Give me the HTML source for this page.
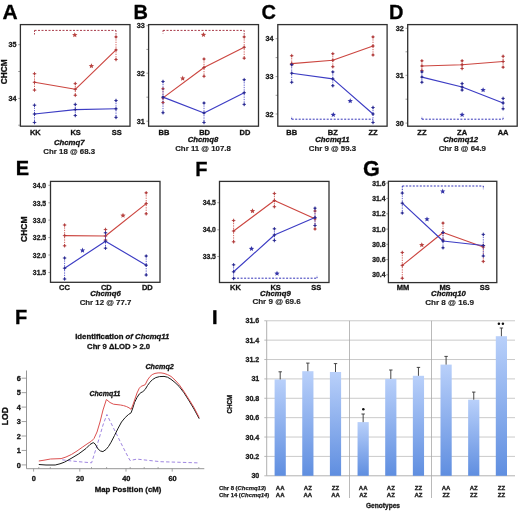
<!DOCTYPE html>
<html><head><meta charset="utf-8"><title>CHCM QTL figure</title>
<style>
html,body{margin:0;padding:0;background:#fff;width:520px;height:511px;overflow:hidden;}
svg{display:block;font-family:"Liberation Sans", sans-serif;will-change:transform;}
</style></head><body>
<svg width="520" height="511" viewBox="0 0 520 511">
<rect width="520" height="511" fill="#fff"/>
<text x="2.40" y="18.80" font-size="21" font-weight="bold" font-style="normal" text-anchor="start" fill="#000" stroke="#000" stroke-width="0.3" >A</text>
<text x="133.60" y="18.80" font-size="20" font-weight="bold" font-style="normal" text-anchor="start" fill="#000" stroke="#000" stroke-width="0.3" >B</text>
<text x="261.60" y="18.90" font-size="20" font-weight="bold" font-style="normal" text-anchor="start" fill="#000" stroke="#000" stroke-width="0.3" >C</text>
<text x="389.00" y="18.80" font-size="20" font-weight="bold" font-style="normal" text-anchor="start" fill="#000" stroke="#000" stroke-width="0.3" >D</text>
<text x="15.80" y="175.40" font-size="20" font-weight="bold" font-style="normal" text-anchor="start" fill="#000" stroke="#000" stroke-width="0.3" >E</text>
<text x="195.20" y="175.60" font-size="20" font-weight="bold" font-style="normal" text-anchor="start" fill="#000" stroke="#000" stroke-width="0.3" >F</text>
<text x="363.00" y="175.80" font-size="21.6" font-weight="bold" font-style="normal" text-anchor="start" fill="#000" stroke="#000" stroke-width="0.3" >G</text>
<text x="15.00" y="324.40" font-size="20" font-weight="bold" font-style="normal" text-anchor="start" fill="#000" stroke="#000" stroke-width="0.3" >F</text>
<rect x="213.2" y="310.2" width="3.3" height="14" fill="#000"/>
<line x1="18.20" y1="44.70" x2="20.40" y2="44.70" stroke="#777" stroke-width="0.7" />
<text x="16.50" y="47.20" font-size="7.2" font-weight="bold" font-style="normal" text-anchor="end" fill="#1a1a1a" stroke="#1a1a1a" stroke-width="0.3" >35</text>
<line x1="18.20" y1="71.50" x2="20.40" y2="71.50" stroke="#777" stroke-width="0.7" />
<line x1="18.20" y1="98.40" x2="20.40" y2="98.40" stroke="#777" stroke-width="0.7" />
<text x="16.50" y="100.90" font-size="7.2" font-weight="bold" font-style="normal" text-anchor="end" fill="#1a1a1a" stroke="#1a1a1a" stroke-width="0.3" >34</text>
<line x1="18.20" y1="125.20" x2="20.40" y2="125.20" stroke="#777" stroke-width="0.7" />
<line x1="34.50" y1="30.40" x2="116.00" y2="30.40" stroke="#a83a48" stroke-width="1" stroke-dasharray="2,1.5" />
<line x1="34.50" y1="30.40" x2="34.50" y2="34.50" stroke="#a83a48" stroke-width="1" stroke-dasharray="1.5,1.2" />
<line x1="116.00" y1="30.40" x2="116.00" y2="37.00" stroke="#a83a48" stroke-width="1" stroke-dasharray="1.5,1.2" />
<line x1="34.50" y1="73.70" x2="34.50" y2="90.10" stroke="#cc4640" stroke-width="0.9" stroke-dasharray="1.3,1.1" opacity="0.9"/>
<line x1="75.30" y1="83.60" x2="75.30" y2="95.30" stroke="#cc4640" stroke-width="0.9" stroke-dasharray="1.3,1.1" opacity="0.9"/>
<line x1="116.00" y1="36.90" x2="116.00" y2="59.50" stroke="#cc4640" stroke-width="0.9" stroke-dasharray="1.3,1.1" opacity="0.9"/>
<polyline points="34.50,82.30 75.30,89.30 116.00,49.90" fill="none" stroke="#cc4640" stroke-width="1.15" stroke-linejoin="round"/>
<path d="M32.70,73.70h3.6M34.50,71.90v3.6" stroke="#b03a3a" stroke-width="0.9" opacity="0.85"/>
<circle cx="34.50" cy="73.70" r="1.0" fill="#b03a3a"/>
<path d="M32.70,82.30h3.6M34.50,80.50v3.6" stroke="#b03a3a" stroke-width="0.9" opacity="0.85"/>
<circle cx="34.50" cy="82.30" r="1.0" fill="#b03a3a"/>
<path d="M32.70,90.10h3.6M34.50,88.30v3.6" stroke="#b03a3a" stroke-width="0.9" opacity="0.85"/>
<circle cx="34.50" cy="90.10" r="1.0" fill="#b03a3a"/>
<path d="M73.50,83.60h3.6M75.30,81.80v3.6" stroke="#b03a3a" stroke-width="0.9" opacity="0.85"/>
<circle cx="75.30" cy="83.60" r="1.0" fill="#b03a3a"/>
<path d="M73.50,89.30h3.6M75.30,87.50v3.6" stroke="#b03a3a" stroke-width="0.9" opacity="0.85"/>
<circle cx="75.30" cy="89.30" r="1.0" fill="#b03a3a"/>
<path d="M73.50,95.30h3.6M75.30,93.50v3.6" stroke="#b03a3a" stroke-width="0.9" opacity="0.85"/>
<circle cx="75.30" cy="95.30" r="1.0" fill="#b03a3a"/>
<path d="M114.20,36.90h3.6M116.00,35.10v3.6" stroke="#b03a3a" stroke-width="0.9" opacity="0.85"/>
<circle cx="116.00" cy="36.90" r="1.0" fill="#b03a3a"/>
<path d="M114.20,49.90h3.6M116.00,48.10v3.6" stroke="#b03a3a" stroke-width="0.9" opacity="0.85"/>
<circle cx="116.00" cy="49.90" r="1.0" fill="#b03a3a"/>
<path d="M114.20,59.50h3.6M116.00,57.70v3.6" stroke="#b03a3a" stroke-width="0.9" opacity="0.85"/>
<circle cx="116.00" cy="59.50" r="1.0" fill="#b03a3a"/>
<line x1="34.50" y1="105.20" x2="34.50" y2="122.50" stroke="#3c3cc4" stroke-width="0.9" stroke-dasharray="1.3,1.1" opacity="0.9"/>
<line x1="75.30" y1="104.40" x2="75.30" y2="115.50" stroke="#3c3cc4" stroke-width="0.9" stroke-dasharray="1.3,1.1" opacity="0.9"/>
<line x1="116.00" y1="100.50" x2="116.00" y2="117.40" stroke="#3c3cc4" stroke-width="0.9" stroke-dasharray="1.3,1.1" opacity="0.9"/>
<polyline points="34.50,114.00 75.30,109.60 116.00,108.80" fill="none" stroke="#3c3cc4" stroke-width="1.15" stroke-linejoin="round"/>
<path d="M32.70,105.20h3.6M34.50,103.40v3.6" stroke="#282890" stroke-width="0.9" opacity="0.85"/>
<circle cx="34.50" cy="105.20" r="1.0" fill="#282890"/>
<path d="M32.70,114.00h3.6M34.50,112.20v3.6" stroke="#282890" stroke-width="0.9" opacity="0.85"/>
<circle cx="34.50" cy="114.00" r="1.0" fill="#282890"/>
<path d="M32.70,122.50h3.6M34.50,120.70v3.6" stroke="#282890" stroke-width="0.9" opacity="0.85"/>
<circle cx="34.50" cy="122.50" r="1.0" fill="#282890"/>
<path d="M73.50,104.40h3.6M75.30,102.60v3.6" stroke="#282890" stroke-width="0.9" opacity="0.85"/>
<circle cx="75.30" cy="104.40" r="1.0" fill="#282890"/>
<path d="M73.50,109.60h3.6M75.30,107.80v3.6" stroke="#282890" stroke-width="0.9" opacity="0.85"/>
<circle cx="75.30" cy="109.60" r="1.0" fill="#282890"/>
<path d="M73.50,115.50h3.6M75.30,113.70v3.6" stroke="#282890" stroke-width="0.9" opacity="0.85"/>
<circle cx="75.30" cy="115.50" r="1.0" fill="#282890"/>
<path d="M114.20,100.50h3.6M116.00,98.70v3.6" stroke="#282890" stroke-width="0.9" opacity="0.85"/>
<circle cx="116.00" cy="100.50" r="1.0" fill="#282890"/>
<path d="M114.20,108.80h3.6M116.00,107.00v3.6" stroke="#282890" stroke-width="0.9" opacity="0.85"/>
<circle cx="116.00" cy="108.80" r="1.0" fill="#282890"/>
<path d="M114.20,117.40h3.6M116.00,115.60v3.6" stroke="#282890" stroke-width="0.9" opacity="0.85"/>
<circle cx="116.00" cy="117.40" r="1.0" fill="#282890"/>
<polygon points="74.80,32.20 75.54,33.98 77.46,34.13 76.00,35.39 76.45,37.27 74.80,36.26 73.15,37.27 73.60,35.39 72.14,34.13 74.06,33.98" fill="#b84440"/>
<polygon points="91.40,63.20 92.14,64.98 94.06,65.13 92.60,66.39 93.05,68.27 91.40,67.26 89.75,68.27 90.20,66.39 88.74,65.13 90.66,64.98" fill="#b84440"/>
<rect x="20.40" y="24.60" width="109.60" height="101.60" fill="none" stroke="#303030" stroke-width="1.3"/>
<text x="35.30" y="135.00" font-size="7.5" font-weight="bold" font-style="normal" text-anchor="middle" fill="#111" stroke="#111" stroke-width="0.3" >KK</text>
<text x="75.60" y="135.00" font-size="7.5" font-weight="bold" font-style="normal" text-anchor="middle" fill="#111" stroke="#111" stroke-width="0.3" >KS</text>
<text x="116.70" y="135.00" font-size="7.5" font-weight="bold" font-style="normal" text-anchor="middle" fill="#111" stroke="#111" stroke-width="0.3" >SS</text>
<text x="69.20" y="145.30" font-size="7.75" font-weight="bold" font-style="italic" text-anchor="middle" fill="#111" stroke="#111" stroke-width="0.3" >Chcmq7</text>
<text x="69.20" y="154.40" font-size="7.85" font-weight="bold" font-style="normal" text-anchor="middle" fill="#1a1a1a" stroke="#1a1a1a" stroke-width="0.15" >Chr 18 @ 68.3</text>
<line x1="146.40" y1="25.70" x2="148.60" y2="25.70" stroke="#777" stroke-width="0.7" />
<text x="144.70" y="28.20" font-size="7.2" font-weight="bold" font-style="normal" text-anchor="end" fill="#1a1a1a" stroke="#1a1a1a" stroke-width="0.3" >33</text>
<line x1="146.40" y1="49.40" x2="148.60" y2="49.40" stroke="#777" stroke-width="0.7" />
<line x1="146.40" y1="73.20" x2="148.60" y2="73.20" stroke="#777" stroke-width="0.7" />
<text x="144.70" y="75.70" font-size="7.2" font-weight="bold" font-style="normal" text-anchor="end" fill="#1a1a1a" stroke="#1a1a1a" stroke-width="0.3" >32</text>
<line x1="146.40" y1="97.20" x2="148.60" y2="97.20" stroke="#777" stroke-width="0.7" />
<line x1="146.40" y1="121.20" x2="148.60" y2="121.20" stroke="#777" stroke-width="0.7" />
<text x="144.70" y="123.70" font-size="7.2" font-weight="bold" font-style="normal" text-anchor="end" fill="#1a1a1a" stroke="#1a1a1a" stroke-width="0.3" >31</text>
<line x1="163.00" y1="30.40" x2="244.20" y2="30.40" stroke="#a83a48" stroke-width="1" stroke-dasharray="2,1.5" />
<line x1="163.00" y1="30.40" x2="163.00" y2="33.50" stroke="#a83a48" stroke-width="1" stroke-dasharray="1.5,1.2" />
<line x1="244.20" y1="30.40" x2="244.20" y2="37.00" stroke="#a83a48" stroke-width="1" stroke-dasharray="1.5,1.2" />
<line x1="163.00" y1="88.80" x2="163.00" y2="102.60" stroke="#cc4640" stroke-width="0.9" stroke-dasharray="1.3,1.1" opacity="0.9"/>
<line x1="204.00" y1="59.00" x2="204.00" y2="76.30" stroke="#cc4640" stroke-width="0.9" stroke-dasharray="1.3,1.1" opacity="0.9"/>
<line x1="244.20" y1="36.90" x2="244.20" y2="58.20" stroke="#cc4640" stroke-width="0.9" stroke-dasharray="1.3,1.1" opacity="0.9"/>
<polyline points="163.00,97.90 204.00,67.50 244.20,47.30" fill="none" stroke="#cc4640" stroke-width="1.15" stroke-linejoin="round"/>
<path d="M161.20,88.80h3.6M163.00,87.00v3.6" stroke="#b03a3a" stroke-width="0.9" opacity="0.85"/>
<circle cx="163.00" cy="88.80" r="1.0" fill="#b03a3a"/>
<path d="M161.20,97.90h3.6M163.00,96.10v3.6" stroke="#b03a3a" stroke-width="0.9" opacity="0.85"/>
<circle cx="163.00" cy="97.90" r="1.0" fill="#b03a3a"/>
<path d="M161.20,102.60h3.6M163.00,100.80v3.6" stroke="#b03a3a" stroke-width="0.9" opacity="0.85"/>
<circle cx="163.00" cy="102.60" r="1.0" fill="#b03a3a"/>
<path d="M202.20,59.00h3.6M204.00,57.20v3.6" stroke="#b03a3a" stroke-width="0.9" opacity="0.85"/>
<circle cx="204.00" cy="59.00" r="1.0" fill="#b03a3a"/>
<path d="M202.20,67.50h3.6M204.00,65.70v3.6" stroke="#b03a3a" stroke-width="0.9" opacity="0.85"/>
<circle cx="204.00" cy="67.50" r="1.0" fill="#b03a3a"/>
<path d="M202.20,76.30h3.6M204.00,74.50v3.6" stroke="#b03a3a" stroke-width="0.9" opacity="0.85"/>
<circle cx="204.00" cy="76.30" r="1.0" fill="#b03a3a"/>
<path d="M242.40,36.90h3.6M244.20,35.10v3.6" stroke="#b03a3a" stroke-width="0.9" opacity="0.85"/>
<circle cx="244.20" cy="36.90" r="1.0" fill="#b03a3a"/>
<path d="M242.40,47.30h3.6M244.20,45.50v3.6" stroke="#b03a3a" stroke-width="0.9" opacity="0.85"/>
<circle cx="244.20" cy="47.30" r="1.0" fill="#b03a3a"/>
<path d="M242.40,58.20h3.6M244.20,56.40v3.6" stroke="#b03a3a" stroke-width="0.9" opacity="0.85"/>
<circle cx="244.20" cy="58.20" r="1.0" fill="#b03a3a"/>
<line x1="163.00" y1="81.50" x2="163.00" y2="112.70" stroke="#3c3cc4" stroke-width="0.9" stroke-dasharray="1.3,1.1" opacity="0.9"/>
<line x1="204.00" y1="103.00" x2="204.00" y2="122.50" stroke="#3c3cc4" stroke-width="0.9" stroke-dasharray="1.3,1.1" opacity="0.9"/>
<line x1="244.20" y1="79.70" x2="244.20" y2="104.40" stroke="#3c3cc4" stroke-width="0.9" stroke-dasharray="1.3,1.1" opacity="0.9"/>
<polyline points="163.00,97.10 204.00,113.00 244.20,92.70" fill="none" stroke="#3c3cc4" stroke-width="1.15" stroke-linejoin="round"/>
<path d="M161.20,81.50h3.6M163.00,79.70v3.6" stroke="#282890" stroke-width="0.9" opacity="0.85"/>
<circle cx="163.00" cy="81.50" r="1.0" fill="#282890"/>
<path d="M161.20,97.10h3.6M163.00,95.30v3.6" stroke="#282890" stroke-width="0.9" opacity="0.85"/>
<circle cx="163.00" cy="97.10" r="1.0" fill="#282890"/>
<path d="M161.20,112.70h3.6M163.00,110.90v3.6" stroke="#282890" stroke-width="0.9" opacity="0.85"/>
<circle cx="163.00" cy="112.70" r="1.0" fill="#282890"/>
<path d="M202.20,103.00h3.6M204.00,101.20v3.6" stroke="#282890" stroke-width="0.9" opacity="0.85"/>
<circle cx="204.00" cy="103.00" r="1.0" fill="#282890"/>
<path d="M202.20,113.00h3.6M204.00,111.20v3.6" stroke="#282890" stroke-width="0.9" opacity="0.85"/>
<circle cx="204.00" cy="113.00" r="1.0" fill="#282890"/>
<path d="M202.20,122.50h3.6M204.00,120.70v3.6" stroke="#282890" stroke-width="0.9" opacity="0.85"/>
<circle cx="204.00" cy="122.50" r="1.0" fill="#282890"/>
<path d="M242.40,79.70h3.6M244.20,77.90v3.6" stroke="#282890" stroke-width="0.9" opacity="0.85"/>
<circle cx="244.20" cy="79.70" r="1.0" fill="#282890"/>
<path d="M242.40,92.70h3.6M244.20,90.90v3.6" stroke="#282890" stroke-width="0.9" opacity="0.85"/>
<circle cx="244.20" cy="92.70" r="1.0" fill="#282890"/>
<path d="M242.40,104.40h3.6M244.20,102.60v3.6" stroke="#282890" stroke-width="0.9" opacity="0.85"/>
<circle cx="244.20" cy="104.40" r="1.0" fill="#282890"/>
<polygon points="203.50,32.00 204.24,33.78 206.16,33.93 204.70,35.19 205.15,37.07 203.50,36.06 201.85,37.07 202.30,35.19 200.84,33.93 202.76,33.78" fill="#b84440"/>
<polygon points="182.70,75.60 183.44,77.38 185.36,77.53 183.90,78.79 184.35,80.67 182.70,79.66 181.05,80.67 181.50,78.79 180.04,77.53 181.96,77.38" fill="#b84440"/>
<rect x="148.60" y="24.60" width="109.90" height="101.60" fill="none" stroke="#303030" stroke-width="1.3"/>
<text x="164.00" y="135.00" font-size="7.5" font-weight="bold" font-style="normal" text-anchor="middle" fill="#111" stroke="#111" stroke-width="0.3" >BB</text>
<text x="204.60" y="135.00" font-size="7.5" font-weight="bold" font-style="normal" text-anchor="middle" fill="#111" stroke="#111" stroke-width="0.3" >BD</text>
<text x="245.00" y="135.00" font-size="7.5" font-weight="bold" font-style="normal" text-anchor="middle" fill="#111" stroke="#111" stroke-width="0.3" >DD</text>
<text x="203.00" y="141.90" font-size="7.75" font-weight="bold" font-style="italic" text-anchor="middle" fill="#111" stroke="#111" stroke-width="0.3" >Chcmq8</text>
<text x="203.00" y="150.70" font-size="7.85" font-weight="bold" font-style="normal" text-anchor="middle" fill="#1a1a1a" stroke="#1a1a1a" stroke-width="0.15" >Chr 11 @ 107.8</text>
<line x1="275.60" y1="38.70" x2="277.80" y2="38.70" stroke="#777" stroke-width="0.7" />
<text x="273.50" y="41.20" font-size="7.2" font-weight="bold" font-style="normal" text-anchor="end" fill="#1a1a1a" stroke="#1a1a1a" stroke-width="0.3" >34</text>
<line x1="275.60" y1="57.60" x2="277.80" y2="57.60" stroke="#777" stroke-width="0.7" />
<line x1="275.60" y1="76.60" x2="277.80" y2="76.60" stroke="#777" stroke-width="0.7" />
<text x="273.50" y="79.10" font-size="7.2" font-weight="bold" font-style="normal" text-anchor="end" fill="#1a1a1a" stroke="#1a1a1a" stroke-width="0.3" >33</text>
<line x1="275.60" y1="95.30" x2="277.80" y2="95.30" stroke="#777" stroke-width="0.7" />
<line x1="275.60" y1="114.00" x2="277.80" y2="114.00" stroke="#777" stroke-width="0.7" />
<text x="273.50" y="116.50" font-size="7.2" font-weight="bold" font-style="normal" text-anchor="end" fill="#1a1a1a" stroke="#1a1a1a" stroke-width="0.3" >32</text>
<line x1="291.70" y1="119.20" x2="373.00" y2="119.20" stroke="#3434b8" stroke-width="1" stroke-dasharray="2,1.5" />
<line x1="291.70" y1="119.20" x2="291.70" y2="116.40" stroke="#3434b8" stroke-width="1" stroke-dasharray="1.5,1.2" />
<line x1="291.70" y1="55.70" x2="291.70" y2="64.60" stroke="#cc4640" stroke-width="0.9" stroke-dasharray="1.3,1.1" opacity="0.9"/>
<line x1="332.80" y1="53.70" x2="332.80" y2="66.70" stroke="#cc4640" stroke-width="0.9" stroke-dasharray="1.3,1.1" opacity="0.9"/>
<line x1="373.00" y1="36.90" x2="373.00" y2="55.00" stroke="#cc4640" stroke-width="0.9" stroke-dasharray="1.3,1.1" opacity="0.9"/>
<polyline points="291.70,63.60 332.80,60.20 373.00,46.00" fill="none" stroke="#cc4640" stroke-width="1.15" stroke-linejoin="round"/>
<path d="M289.90,55.70h3.6M291.70,53.90v3.6" stroke="#b03a3a" stroke-width="0.9" opacity="0.85"/>
<circle cx="291.70" cy="55.70" r="1.0" fill="#b03a3a"/>
<path d="M289.90,63.60h3.6M291.70,61.80v3.6" stroke="#b03a3a" stroke-width="0.9" opacity="0.85"/>
<circle cx="291.70" cy="63.60" r="1.0" fill="#b03a3a"/>
<path d="M289.90,64.60h3.6M291.70,62.80v3.6" stroke="#b03a3a" stroke-width="0.9" opacity="0.85"/>
<circle cx="291.70" cy="64.60" r="1.0" fill="#b03a3a"/>
<path d="M331.00,53.70h3.6M332.80,51.90v3.6" stroke="#b03a3a" stroke-width="0.9" opacity="0.85"/>
<circle cx="332.80" cy="53.70" r="1.0" fill="#b03a3a"/>
<path d="M331.00,60.20h3.6M332.80,58.40v3.6" stroke="#b03a3a" stroke-width="0.9" opacity="0.85"/>
<circle cx="332.80" cy="60.20" r="1.0" fill="#b03a3a"/>
<path d="M331.00,66.70h3.6M332.80,64.90v3.6" stroke="#b03a3a" stroke-width="0.9" opacity="0.85"/>
<circle cx="332.80" cy="66.70" r="1.0" fill="#b03a3a"/>
<path d="M371.20,36.90h3.6M373.00,35.10v3.6" stroke="#b03a3a" stroke-width="0.9" opacity="0.85"/>
<circle cx="373.00" cy="36.90" r="1.0" fill="#b03a3a"/>
<path d="M371.20,46.00h3.6M373.00,44.20v3.6" stroke="#b03a3a" stroke-width="0.9" opacity="0.85"/>
<circle cx="373.00" cy="46.00" r="1.0" fill="#b03a3a"/>
<path d="M371.20,55.00h3.6M373.00,53.20v3.6" stroke="#b03a3a" stroke-width="0.9" opacity="0.85"/>
<circle cx="373.00" cy="55.00" r="1.0" fill="#b03a3a"/>
<line x1="291.70" y1="64.70" x2="291.70" y2="82.30" stroke="#3c3cc4" stroke-width="0.9" stroke-dasharray="1.3,1.1" opacity="0.9"/>
<line x1="332.80" y1="71.90" x2="332.80" y2="85.70" stroke="#3c3cc4" stroke-width="0.9" stroke-dasharray="1.3,1.1" opacity="0.9"/>
<line x1="373.00" y1="107.50" x2="373.00" y2="122.50" stroke="#3c3cc4" stroke-width="0.9" stroke-dasharray="1.3,1.1" opacity="0.9"/>
<polyline points="291.70,73.20 332.80,78.90 373.00,114.00" fill="none" stroke="#3c3cc4" stroke-width="1.15" stroke-linejoin="round"/>
<path d="M289.90,64.70h3.6M291.70,62.90v3.6" stroke="#282890" stroke-width="0.9" opacity="0.85"/>
<circle cx="291.70" cy="64.70" r="1.0" fill="#282890"/>
<path d="M289.90,73.20h3.6M291.70,71.40v3.6" stroke="#282890" stroke-width="0.9" opacity="0.85"/>
<circle cx="291.70" cy="73.20" r="1.0" fill="#282890"/>
<path d="M289.90,82.30h3.6M291.70,80.50v3.6" stroke="#282890" stroke-width="0.9" opacity="0.85"/>
<circle cx="291.70" cy="82.30" r="1.0" fill="#282890"/>
<path d="M331.00,71.90h3.6M332.80,70.10v3.6" stroke="#282890" stroke-width="0.9" opacity="0.85"/>
<circle cx="332.80" cy="71.90" r="1.0" fill="#282890"/>
<path d="M331.00,78.90h3.6M332.80,77.10v3.6" stroke="#282890" stroke-width="0.9" opacity="0.85"/>
<circle cx="332.80" cy="78.90" r="1.0" fill="#282890"/>
<path d="M331.00,85.70h3.6M332.80,83.90v3.6" stroke="#282890" stroke-width="0.9" opacity="0.85"/>
<circle cx="332.80" cy="85.70" r="1.0" fill="#282890"/>
<path d="M371.20,107.50h3.6M373.00,105.70v3.6" stroke="#282890" stroke-width="0.9" opacity="0.85"/>
<circle cx="373.00" cy="107.50" r="1.0" fill="#282890"/>
<path d="M371.20,114.00h3.6M373.00,112.20v3.6" stroke="#282890" stroke-width="0.9" opacity="0.85"/>
<circle cx="373.00" cy="114.00" r="1.0" fill="#282890"/>
<path d="M371.20,122.50h3.6M373.00,120.70v3.6" stroke="#282890" stroke-width="0.9" opacity="0.85"/>
<circle cx="373.00" cy="122.50" r="1.0" fill="#282890"/>
<polygon points="333.30,112.00 334.04,113.78 335.96,113.93 334.50,115.19 334.95,117.07 333.30,116.06 331.65,117.07 332.10,115.19 330.64,113.93 332.56,113.78" fill="#3434a8"/>
<polygon points="350.20,98.20 350.94,99.98 352.86,100.13 351.40,101.39 351.85,103.27 350.20,102.26 348.55,103.27 349.00,101.39 347.54,100.13 349.46,99.98" fill="#3434a8"/>
<rect x="277.80" y="24.60" width="109.30" height="101.60" fill="none" stroke="#303030" stroke-width="1.3"/>
<text x="291.70" y="135.00" font-size="7.5" font-weight="bold" font-style="normal" text-anchor="middle" fill="#111" stroke="#111" stroke-width="0.3" >BB</text>
<text x="332.80" y="135.00" font-size="7.5" font-weight="bold" font-style="normal" text-anchor="middle" fill="#111" stroke="#111" stroke-width="0.3" >BZ</text>
<text x="373.00" y="135.00" font-size="7.5" font-weight="bold" font-style="normal" text-anchor="middle" fill="#111" stroke="#111" stroke-width="0.3" >ZZ</text>
<text x="332.40" y="141.90" font-size="7.75" font-weight="bold" font-style="italic" text-anchor="middle" fill="#111" stroke="#111" stroke-width="0.3" >Chcmq11</text>
<text x="332.40" y="150.70" font-size="7.85" font-weight="bold" font-style="normal" text-anchor="middle" fill="#1a1a1a" stroke="#1a1a1a" stroke-width="0.15" >Chr 9 @ 59.3</text>
<line x1="405.50" y1="28.30" x2="407.70" y2="28.30" stroke="#777" stroke-width="0.7" />
<text x="403.80" y="30.80" font-size="7.2" font-weight="bold" font-style="normal" text-anchor="end" fill="#1a1a1a" stroke="#1a1a1a" stroke-width="0.3" >32</text>
<line x1="405.50" y1="51.80" x2="407.70" y2="51.80" stroke="#777" stroke-width="0.7" />
<line x1="405.50" y1="75.30" x2="407.70" y2="75.30" stroke="#777" stroke-width="0.7" />
<text x="403.80" y="77.80" font-size="7.2" font-weight="bold" font-style="normal" text-anchor="end" fill="#1a1a1a" stroke="#1a1a1a" stroke-width="0.3" >31</text>
<line x1="405.50" y1="99.20" x2="407.70" y2="99.20" stroke="#777" stroke-width="0.7" />
<line x1="405.50" y1="123.10" x2="407.70" y2="123.10" stroke="#777" stroke-width="0.7" />
<text x="403.80" y="125.60" font-size="7.2" font-weight="bold" font-style="normal" text-anchor="end" fill="#1a1a1a" stroke="#1a1a1a" stroke-width="0.3" >30</text>
<line x1="421.90" y1="119.20" x2="503.10" y2="119.20" stroke="#3434b8" stroke-width="1" stroke-dasharray="2,1.5" />
<line x1="421.90" y1="119.20" x2="421.90" y2="116.40" stroke="#3434b8" stroke-width="1" stroke-dasharray="1.5,1.2" />
<line x1="503.10" y1="119.20" x2="503.10" y2="116.40" stroke="#3434b8" stroke-width="1" stroke-dasharray="1.5,1.2" />
<line x1="421.90" y1="60.80" x2="421.90" y2="70.60" stroke="#cc4640" stroke-width="0.9" stroke-dasharray="1.3,1.1" opacity="0.9"/>
<line x1="462.10" y1="60.80" x2="462.10" y2="68.50" stroke="#cc4640" stroke-width="0.9" stroke-dasharray="1.3,1.1" opacity="0.9"/>
<line x1="503.10" y1="56.30" x2="503.10" y2="67.20" stroke="#cc4640" stroke-width="0.9" stroke-dasharray="1.3,1.1" opacity="0.9"/>
<polyline points="421.90,66.00 462.10,64.70 503.10,61.50" fill="none" stroke="#cc4640" stroke-width="1.15" stroke-linejoin="round"/>
<path d="M420.10,60.80h3.6M421.90,59.00v3.6" stroke="#b03a3a" stroke-width="0.9" opacity="0.85"/>
<circle cx="421.90" cy="60.80" r="1.0" fill="#b03a3a"/>
<path d="M420.10,66.00h3.6M421.90,64.20v3.6" stroke="#b03a3a" stroke-width="0.9" opacity="0.85"/>
<circle cx="421.90" cy="66.00" r="1.0" fill="#b03a3a"/>
<path d="M420.10,70.60h3.6M421.90,68.80v3.6" stroke="#b03a3a" stroke-width="0.9" opacity="0.85"/>
<circle cx="421.90" cy="70.60" r="1.0" fill="#b03a3a"/>
<path d="M460.30,60.80h3.6M462.10,59.00v3.6" stroke="#b03a3a" stroke-width="0.9" opacity="0.85"/>
<circle cx="462.10" cy="60.80" r="1.0" fill="#b03a3a"/>
<path d="M460.30,64.70h3.6M462.10,62.90v3.6" stroke="#b03a3a" stroke-width="0.9" opacity="0.85"/>
<circle cx="462.10" cy="64.70" r="1.0" fill="#b03a3a"/>
<path d="M460.30,68.50h3.6M462.10,66.70v3.6" stroke="#b03a3a" stroke-width="0.9" opacity="0.85"/>
<circle cx="462.10" cy="68.50" r="1.0" fill="#b03a3a"/>
<path d="M501.30,56.30h3.6M503.10,54.50v3.6" stroke="#b03a3a" stroke-width="0.9" opacity="0.85"/>
<circle cx="503.10" cy="56.30" r="1.0" fill="#b03a3a"/>
<path d="M501.30,61.50h3.6M503.10,59.70v3.6" stroke="#b03a3a" stroke-width="0.9" opacity="0.85"/>
<circle cx="503.10" cy="61.50" r="1.0" fill="#b03a3a"/>
<path d="M501.30,67.20h3.6M503.10,65.40v3.6" stroke="#b03a3a" stroke-width="0.9" opacity="0.85"/>
<circle cx="503.10" cy="67.20" r="1.0" fill="#b03a3a"/>
<line x1="421.90" y1="71.90" x2="421.90" y2="82.30" stroke="#3c3cc4" stroke-width="0.9" stroke-dasharray="1.3,1.1" opacity="0.9"/>
<line x1="462.10" y1="83.60" x2="462.10" y2="90.10" stroke="#3c3cc4" stroke-width="0.9" stroke-dasharray="1.3,1.1" opacity="0.9"/>
<line x1="503.10" y1="98.40" x2="503.10" y2="108.80" stroke="#3c3cc4" stroke-width="0.9" stroke-dasharray="1.3,1.1" opacity="0.9"/>
<polyline points="421.90,77.10 462.10,87.00 503.10,103.00" fill="none" stroke="#3c3cc4" stroke-width="1.15" stroke-linejoin="round"/>
<path d="M420.10,71.90h3.6M421.90,70.10v3.6" stroke="#282890" stroke-width="0.9" opacity="0.85"/>
<circle cx="421.90" cy="71.90" r="1.0" fill="#282890"/>
<path d="M420.10,77.10h3.6M421.90,75.30v3.6" stroke="#282890" stroke-width="0.9" opacity="0.85"/>
<circle cx="421.90" cy="77.10" r="1.0" fill="#282890"/>
<path d="M420.10,82.30h3.6M421.90,80.50v3.6" stroke="#282890" stroke-width="0.9" opacity="0.85"/>
<circle cx="421.90" cy="82.30" r="1.0" fill="#282890"/>
<path d="M460.30,83.60h3.6M462.10,81.80v3.6" stroke="#282890" stroke-width="0.9" opacity="0.85"/>
<circle cx="462.10" cy="83.60" r="1.0" fill="#282890"/>
<path d="M460.30,87.00h3.6M462.10,85.20v3.6" stroke="#282890" stroke-width="0.9" opacity="0.85"/>
<circle cx="462.10" cy="87.00" r="1.0" fill="#282890"/>
<path d="M460.30,90.10h3.6M462.10,88.30v3.6" stroke="#282890" stroke-width="0.9" opacity="0.85"/>
<circle cx="462.10" cy="90.10" r="1.0" fill="#282890"/>
<path d="M501.30,98.40h3.6M503.10,96.60v3.6" stroke="#282890" stroke-width="0.9" opacity="0.85"/>
<circle cx="503.10" cy="98.40" r="1.0" fill="#282890"/>
<path d="M501.30,103.00h3.6M503.10,101.20v3.6" stroke="#282890" stroke-width="0.9" opacity="0.85"/>
<circle cx="503.10" cy="103.00" r="1.0" fill="#282890"/>
<path d="M501.30,108.80h3.6M503.10,107.00v3.6" stroke="#282890" stroke-width="0.9" opacity="0.85"/>
<circle cx="503.10" cy="108.80" r="1.0" fill="#282890"/>
<polygon points="462.10,112.00 462.84,113.78 464.76,113.93 463.30,115.19 463.75,117.07 462.10,116.06 460.45,117.07 460.90,115.19 459.44,113.93 461.36,113.78" fill="#3434a8"/>
<polygon points="483.10,87.30 483.84,89.08 485.76,89.23 484.30,90.49 484.75,92.37 483.10,91.36 481.45,92.37 481.90,90.49 480.44,89.23 482.36,89.08" fill="#3434a8"/>
<rect x="407.70" y="24.60" width="109.50" height="101.60" fill="none" stroke="#303030" stroke-width="1.3"/>
<text x="421.90" y="135.00" font-size="7.5" font-weight="bold" font-style="normal" text-anchor="middle" fill="#111" stroke="#111" stroke-width="0.3" >ZZ</text>
<text x="462.10" y="135.00" font-size="7.5" font-weight="bold" font-style="normal" text-anchor="middle" fill="#111" stroke="#111" stroke-width="0.3" >ZA</text>
<text x="503.10" y="135.00" font-size="7.5" font-weight="bold" font-style="normal" text-anchor="middle" fill="#111" stroke="#111" stroke-width="0.3" >AA</text>
<text x="460.60" y="141.90" font-size="7.75" font-weight="bold" font-style="italic" text-anchor="middle" fill="#111" stroke="#111" stroke-width="0.3" >Chcmq12</text>
<text x="462.30" y="150.70" font-size="7.85" font-weight="bold" font-style="normal" text-anchor="middle" fill="#1a1a1a" stroke="#1a1a1a" stroke-width="0.15" >Chr 8 @ 64.9</text>
<line x1="48.30" y1="185.30" x2="50.50" y2="185.30" stroke="#777" stroke-width="0.7" />
<text x="46.10" y="188.10" font-size="6.8" font-weight="bold" font-style="normal" text-anchor="end" fill="#1a1a1a" stroke="#1a1a1a" stroke-width="0.3" >34.0</text>
<line x1="48.30" y1="202.80" x2="50.50" y2="202.80" stroke="#777" stroke-width="0.7" />
<text x="46.10" y="205.60" font-size="6.8" font-weight="bold" font-style="normal" text-anchor="end" fill="#1a1a1a" stroke="#1a1a1a" stroke-width="0.3" >33.5</text>
<line x1="48.30" y1="220.10" x2="50.50" y2="220.10" stroke="#777" stroke-width="0.7" />
<text x="46.10" y="222.90" font-size="6.8" font-weight="bold" font-style="normal" text-anchor="end" fill="#1a1a1a" stroke="#1a1a1a" stroke-width="0.3" >33.0</text>
<line x1="48.30" y1="237.60" x2="50.50" y2="237.60" stroke="#777" stroke-width="0.7" />
<text x="46.10" y="240.40" font-size="6.8" font-weight="bold" font-style="normal" text-anchor="end" fill="#1a1a1a" stroke="#1a1a1a" stroke-width="0.3" >32.5</text>
<line x1="48.30" y1="255.00" x2="50.50" y2="255.00" stroke="#777" stroke-width="0.7" />
<text x="46.10" y="257.80" font-size="6.8" font-weight="bold" font-style="normal" text-anchor="end" fill="#1a1a1a" stroke="#1a1a1a" stroke-width="0.3" >32.0</text>
<line x1="48.30" y1="272.50" x2="50.50" y2="272.50" stroke="#777" stroke-width="0.7" />
<text x="46.10" y="275.30" font-size="6.8" font-weight="bold" font-style="normal" text-anchor="end" fill="#1a1a1a" stroke="#1a1a1a" stroke-width="0.3" >31.5</text>
<line x1="64.60" y1="225.00" x2="64.60" y2="245.80" stroke="#cc4640" stroke-width="0.9" stroke-dasharray="1.3,1.1" opacity="0.9"/>
<line x1="105.50" y1="229.50" x2="105.50" y2="240.00" stroke="#cc4640" stroke-width="0.9" stroke-dasharray="1.3,1.1" opacity="0.9"/>
<line x1="146.20" y1="192.80" x2="146.20" y2="213.80" stroke="#cc4640" stroke-width="0.9" stroke-dasharray="1.3,1.1" opacity="0.9"/>
<polyline points="64.60,235.60 105.50,236.00 146.20,203.60" fill="none" stroke="#cc4640" stroke-width="1.15" stroke-linejoin="round"/>
<path d="M62.80,225.00h3.6M64.60,223.20v3.6" stroke="#b03a3a" stroke-width="0.9" opacity="0.85"/>
<circle cx="64.60" cy="225.00" r="1.0" fill="#b03a3a"/>
<path d="M62.80,235.60h3.6M64.60,233.80v3.6" stroke="#b03a3a" stroke-width="0.9" opacity="0.85"/>
<circle cx="64.60" cy="235.60" r="1.0" fill="#b03a3a"/>
<path d="M62.80,245.80h3.6M64.60,244.00v3.6" stroke="#b03a3a" stroke-width="0.9" opacity="0.85"/>
<circle cx="64.60" cy="245.80" r="1.0" fill="#b03a3a"/>
<path d="M103.70,229.50h3.6M105.50,227.70v3.6" stroke="#b03a3a" stroke-width="0.9" opacity="0.85"/>
<circle cx="105.50" cy="229.50" r="1.0" fill="#b03a3a"/>
<path d="M103.70,236.00h3.6M105.50,234.20v3.6" stroke="#b03a3a" stroke-width="0.9" opacity="0.85"/>
<circle cx="105.50" cy="236.00" r="1.0" fill="#b03a3a"/>
<path d="M103.70,240.00h3.6M105.50,238.20v3.6" stroke="#b03a3a" stroke-width="0.9" opacity="0.85"/>
<circle cx="105.50" cy="240.00" r="1.0" fill="#b03a3a"/>
<path d="M144.40,192.80h3.6M146.20,191.00v3.6" stroke="#b03a3a" stroke-width="0.9" opacity="0.85"/>
<circle cx="146.20" cy="192.80" r="1.0" fill="#b03a3a"/>
<path d="M144.40,203.60h3.6M146.20,201.80v3.6" stroke="#b03a3a" stroke-width="0.9" opacity="0.85"/>
<circle cx="146.20" cy="203.60" r="1.0" fill="#b03a3a"/>
<path d="M144.40,213.80h3.6M146.20,212.00v3.6" stroke="#b03a3a" stroke-width="0.9" opacity="0.85"/>
<circle cx="146.20" cy="213.80" r="1.0" fill="#b03a3a"/>
<line x1="64.60" y1="258.00" x2="64.60" y2="279.00" stroke="#3c3cc4" stroke-width="0.9" stroke-dasharray="1.3,1.1" opacity="0.9"/>
<line x1="105.50" y1="232.80" x2="105.50" y2="248.20" stroke="#3c3cc4" stroke-width="0.9" stroke-dasharray="1.3,1.1" opacity="0.9"/>
<line x1="146.20" y1="256.00" x2="146.20" y2="275.00" stroke="#3c3cc4" stroke-width="0.9" stroke-dasharray="1.3,1.1" opacity="0.9"/>
<polyline points="64.60,268.20 105.50,241.20 146.20,265.20" fill="none" stroke="#3c3cc4" stroke-width="1.15" stroke-linejoin="round"/>
<path d="M62.80,258.00h3.6M64.60,256.20v3.6" stroke="#282890" stroke-width="0.9" opacity="0.85"/>
<circle cx="64.60" cy="258.00" r="1.0" fill="#282890"/>
<path d="M62.80,268.20h3.6M64.60,266.40v3.6" stroke="#282890" stroke-width="0.9" opacity="0.85"/>
<circle cx="64.60" cy="268.20" r="1.0" fill="#282890"/>
<path d="M62.80,279.00h3.6M64.60,277.20v3.6" stroke="#282890" stroke-width="0.9" opacity="0.85"/>
<circle cx="64.60" cy="279.00" r="1.0" fill="#282890"/>
<path d="M103.70,232.80h3.6M105.50,231.00v3.6" stroke="#282890" stroke-width="0.9" opacity="0.85"/>
<circle cx="105.50" cy="232.80" r="1.0" fill="#282890"/>
<path d="M103.70,241.20h3.6M105.50,239.40v3.6" stroke="#282890" stroke-width="0.9" opacity="0.85"/>
<circle cx="105.50" cy="241.20" r="1.0" fill="#282890"/>
<path d="M103.70,248.20h3.6M105.50,246.40v3.6" stroke="#282890" stroke-width="0.9" opacity="0.85"/>
<circle cx="105.50" cy="248.20" r="1.0" fill="#282890"/>
<path d="M144.40,256.00h3.6M146.20,254.20v3.6" stroke="#282890" stroke-width="0.9" opacity="0.85"/>
<circle cx="146.20" cy="256.00" r="1.0" fill="#282890"/>
<path d="M144.40,265.20h3.6M146.20,263.40v3.6" stroke="#282890" stroke-width="0.9" opacity="0.85"/>
<circle cx="146.20" cy="265.20" r="1.0" fill="#282890"/>
<path d="M144.40,275.00h3.6M146.20,273.20v3.6" stroke="#282890" stroke-width="0.9" opacity="0.85"/>
<circle cx="146.20" cy="275.00" r="1.0" fill="#282890"/>
<polygon points="123.00,212.80 123.74,214.58 125.66,214.73 124.20,215.99 124.65,217.87 123.00,216.86 121.35,217.87 121.80,215.99 120.34,214.73 122.26,214.58" fill="#b84440"/>
<polygon points="82.50,247.60 83.24,249.38 85.16,249.53 83.70,250.79 84.15,252.67 82.50,251.66 80.85,252.67 81.30,250.79 79.84,249.53 81.76,249.38" fill="#3434a8"/>
<rect x="50.50" y="181.40" width="109.50" height="100.90" fill="none" stroke="#303030" stroke-width="1.3"/>
<text x="64.50" y="289.90" font-size="7.5" font-weight="bold" font-style="normal" text-anchor="middle" fill="#111" stroke="#111" stroke-width="0.3" >CC</text>
<text x="106.30" y="289.90" font-size="7.5" font-weight="bold" font-style="normal" text-anchor="middle" fill="#111" stroke="#111" stroke-width="0.3" >CD</text>
<text x="147.30" y="289.90" font-size="7.5" font-weight="bold" font-style="normal" text-anchor="middle" fill="#111" stroke="#111" stroke-width="0.3" >DD</text>
<text x="105.50" y="296.20" font-size="7.75" font-weight="bold" font-style="italic" text-anchor="middle" fill="#111" stroke="#111" stroke-width="0.3" >Chcmq6</text>
<text x="105.50" y="305.10" font-size="7.85" font-weight="bold" font-style="normal" text-anchor="middle" fill="#1a1a1a" stroke="#1a1a1a" stroke-width="0.15" >Chr 12 @ 77.7</text>
<line x1="217.30" y1="202.70" x2="219.50" y2="202.70" stroke="#777" stroke-width="0.7" />
<text x="215.90" y="205.20" font-size="6.8" font-weight="bold" font-style="normal" text-anchor="end" fill="#1a1a1a" stroke="#1a1a1a" stroke-width="0.3" >34.5</text>
<line x1="217.30" y1="229.80" x2="219.50" y2="229.80" stroke="#777" stroke-width="0.7" />
<text x="215.90" y="232.30" font-size="6.8" font-weight="bold" font-style="normal" text-anchor="end" fill="#1a1a1a" stroke="#1a1a1a" stroke-width="0.3" >34.0</text>
<line x1="217.30" y1="256.50" x2="219.50" y2="256.50" stroke="#777" stroke-width="0.7" />
<text x="215.90" y="259.00" font-size="6.8" font-weight="bold" font-style="normal" text-anchor="end" fill="#1a1a1a" stroke="#1a1a1a" stroke-width="0.3" >33.5</text>
<line x1="233.60" y1="278.20" x2="317.00" y2="278.20" stroke="#3434b8" stroke-width="1" stroke-dasharray="2,1.5" />
<line x1="317.00" y1="278.20" x2="317.00" y2="275.40" stroke="#3434b8" stroke-width="1" stroke-dasharray="1.5,1.2" />
<line x1="233.60" y1="220.50" x2="233.60" y2="241.80" stroke="#cc4640" stroke-width="0.9" stroke-dasharray="1.3,1.1" opacity="0.9"/>
<line x1="274.40" y1="193.50" x2="274.40" y2="206.70" stroke="#cc4640" stroke-width="0.9" stroke-dasharray="1.3,1.1" opacity="0.9"/>
<line x1="315.00" y1="211.00" x2="315.00" y2="229.00" stroke="#cc4640" stroke-width="0.9" stroke-dasharray="1.3,1.1" opacity="0.9"/>
<polyline points="233.60,231.00 274.40,200.50 315.00,218.80" fill="none" stroke="#cc4640" stroke-width="1.15" stroke-linejoin="round"/>
<path d="M231.80,220.50h3.6M233.60,218.70v3.6" stroke="#b03a3a" stroke-width="0.9" opacity="0.85"/>
<circle cx="233.60" cy="220.50" r="1.0" fill="#b03a3a"/>
<path d="M231.80,231.00h3.6M233.60,229.20v3.6" stroke="#b03a3a" stroke-width="0.9" opacity="0.85"/>
<circle cx="233.60" cy="231.00" r="1.0" fill="#b03a3a"/>
<path d="M231.80,241.80h3.6M233.60,240.00v3.6" stroke="#b03a3a" stroke-width="0.9" opacity="0.85"/>
<circle cx="233.60" cy="241.80" r="1.0" fill="#b03a3a"/>
<path d="M272.60,193.50h3.6M274.40,191.70v3.6" stroke="#b03a3a" stroke-width="0.9" opacity="0.85"/>
<circle cx="274.40" cy="193.50" r="1.0" fill="#b03a3a"/>
<path d="M272.60,200.50h3.6M274.40,198.70v3.6" stroke="#b03a3a" stroke-width="0.9" opacity="0.85"/>
<circle cx="274.40" cy="200.50" r="1.0" fill="#b03a3a"/>
<path d="M272.60,206.70h3.6M274.40,204.90v3.6" stroke="#b03a3a" stroke-width="0.9" opacity="0.85"/>
<circle cx="274.40" cy="206.70" r="1.0" fill="#b03a3a"/>
<path d="M313.20,211.00h3.6M315.00,209.20v3.6" stroke="#b03a3a" stroke-width="0.9" opacity="0.85"/>
<circle cx="315.00" cy="211.00" r="1.0" fill="#b03a3a"/>
<path d="M313.20,218.80h3.6M315.00,217.00v3.6" stroke="#b03a3a" stroke-width="0.9" opacity="0.85"/>
<circle cx="315.00" cy="218.80" r="1.0" fill="#b03a3a"/>
<path d="M313.20,229.00h3.6M315.00,227.20v3.6" stroke="#b03a3a" stroke-width="0.9" opacity="0.85"/>
<circle cx="315.00" cy="229.00" r="1.0" fill="#b03a3a"/>
<line x1="233.60" y1="264.80" x2="233.60" y2="278.40" stroke="#3c3cc4" stroke-width="0.9" stroke-dasharray="1.3,1.1" opacity="0.9"/>
<line x1="274.40" y1="228.80" x2="274.40" y2="240.50" stroke="#3c3cc4" stroke-width="0.9" stroke-dasharray="1.3,1.1" opacity="0.9"/>
<line x1="315.00" y1="208.20" x2="315.00" y2="225.50" stroke="#3c3cc4" stroke-width="0.9" stroke-dasharray="1.3,1.1" opacity="0.9"/>
<polyline points="233.60,271.80 274.40,235.00 315.00,217.50" fill="none" stroke="#3c3cc4" stroke-width="1.15" stroke-linejoin="round"/>
<path d="M231.80,264.80h3.6M233.60,263.00v3.6" stroke="#282890" stroke-width="0.9" opacity="0.85"/>
<circle cx="233.60" cy="264.80" r="1.0" fill="#282890"/>
<path d="M231.80,271.80h3.6M233.60,270.00v3.6" stroke="#282890" stroke-width="0.9" opacity="0.85"/>
<circle cx="233.60" cy="271.80" r="1.0" fill="#282890"/>
<path d="M231.80,278.40h3.6M233.60,276.60v3.6" stroke="#282890" stroke-width="0.9" opacity="0.85"/>
<circle cx="233.60" cy="278.40" r="1.0" fill="#282890"/>
<path d="M272.60,228.80h3.6M274.40,227.00v3.6" stroke="#282890" stroke-width="0.9" opacity="0.85"/>
<circle cx="274.40" cy="228.80" r="1.0" fill="#282890"/>
<path d="M272.60,235.00h3.6M274.40,233.20v3.6" stroke="#282890" stroke-width="0.9" opacity="0.85"/>
<circle cx="274.40" cy="235.00" r="1.0" fill="#282890"/>
<path d="M272.60,240.50h3.6M274.40,238.70v3.6" stroke="#282890" stroke-width="0.9" opacity="0.85"/>
<circle cx="274.40" cy="240.50" r="1.0" fill="#282890"/>
<path d="M313.20,208.20h3.6M315.00,206.40v3.6" stroke="#282890" stroke-width="0.9" opacity="0.85"/>
<circle cx="315.00" cy="208.20" r="1.0" fill="#282890"/>
<path d="M313.20,217.50h3.6M315.00,215.70v3.6" stroke="#282890" stroke-width="0.9" opacity="0.85"/>
<circle cx="315.00" cy="217.50" r="1.0" fill="#282890"/>
<path d="M313.20,225.50h3.6M315.00,223.70v3.6" stroke="#282890" stroke-width="0.9" opacity="0.85"/>
<circle cx="315.00" cy="225.50" r="1.0" fill="#282890"/>
<polygon points="252.50,208.20 253.24,209.98 255.16,210.13 253.70,211.39 254.15,213.27 252.50,212.26 250.85,213.27 251.30,211.39 249.84,210.13 251.76,209.98" fill="#b84440"/>
<polygon points="251.50,246.00 252.24,247.78 254.16,247.93 252.70,249.19 253.15,251.07 251.50,250.06 249.85,251.07 250.30,249.19 248.84,247.93 250.76,247.78" fill="#3434a8"/>
<polygon points="277.00,270.70 277.74,272.48 279.66,272.63 278.20,273.89 278.65,275.77 277.00,274.76 275.35,275.77 275.80,273.89 274.34,272.63 276.26,272.48" fill="#3434a8"/>
<rect x="219.50" y="181.40" width="109.50" height="101.10" fill="none" stroke="#303030" stroke-width="1.3"/>
<text x="235.40" y="289.50" font-size="7.5" font-weight="bold" font-style="normal" text-anchor="middle" fill="#111" stroke="#111" stroke-width="0.3" >KK</text>
<text x="275.60" y="289.50" font-size="7.5" font-weight="bold" font-style="normal" text-anchor="middle" fill="#111" stroke="#111" stroke-width="0.3" >KS</text>
<text x="316.20" y="289.50" font-size="7.5" font-weight="bold" font-style="normal" text-anchor="middle" fill="#111" stroke="#111" stroke-width="0.3" >SS</text>
<text x="275.40" y="295.70" font-size="7.75" font-weight="bold" font-style="italic" text-anchor="middle" fill="#111" stroke="#111" stroke-width="0.3" >Chcmq9</text>
<text x="276.60" y="304.30" font-size="8.0" font-weight="bold" font-style="normal" text-anchor="middle" fill="#1a1a1a" stroke="#1a1a1a" stroke-width="0.15" >Chr 9 @ 69.6</text>
<line x1="386.20" y1="183.00" x2="388.40" y2="183.00" stroke="#777" stroke-width="0.7" />
<text x="385.50" y="185.50" font-size="6.8" font-weight="bold" font-style="normal" text-anchor="end" fill="#1a1a1a" stroke="#1a1a1a" stroke-width="0.3" >31.6</text>
<line x1="386.20" y1="198.40" x2="388.40" y2="198.40" stroke="#777" stroke-width="0.7" />
<text x="385.50" y="200.90" font-size="6.8" font-weight="bold" font-style="normal" text-anchor="end" fill="#1a1a1a" stroke="#1a1a1a" stroke-width="0.3" >31.4</text>
<line x1="386.20" y1="213.80" x2="388.40" y2="213.80" stroke="#777" stroke-width="0.7" />
<text x="385.50" y="216.30" font-size="6.8" font-weight="bold" font-style="normal" text-anchor="end" fill="#1a1a1a" stroke="#1a1a1a" stroke-width="0.3" >31.2</text>
<line x1="386.20" y1="229.10" x2="388.40" y2="229.10" stroke="#777" stroke-width="0.7" />
<text x="385.50" y="231.60" font-size="6.8" font-weight="bold" font-style="normal" text-anchor="end" fill="#1a1a1a" stroke="#1a1a1a" stroke-width="0.3" >31.0</text>
<line x1="386.20" y1="244.30" x2="388.40" y2="244.30" stroke="#777" stroke-width="0.7" />
<text x="385.50" y="246.80" font-size="6.8" font-weight="bold" font-style="normal" text-anchor="end" fill="#1a1a1a" stroke="#1a1a1a" stroke-width="0.3" >30.8</text>
<line x1="386.20" y1="259.60" x2="388.40" y2="259.60" stroke="#777" stroke-width="0.7" />
<text x="385.50" y="262.10" font-size="6.8" font-weight="bold" font-style="normal" text-anchor="end" fill="#1a1a1a" stroke="#1a1a1a" stroke-width="0.3" >30.6</text>
<line x1="386.20" y1="274.80" x2="388.40" y2="274.80" stroke="#777" stroke-width="0.7" />
<text x="385.50" y="277.30" font-size="6.8" font-weight="bold" font-style="normal" text-anchor="end" fill="#1a1a1a" stroke="#1a1a1a" stroke-width="0.3" >30.4</text>
<line x1="402.30" y1="186.00" x2="483.30" y2="186.00" stroke="#3434b8" stroke-width="1" stroke-dasharray="2,1.5" />
<line x1="402.30" y1="186.00" x2="402.30" y2="193.10" stroke="#3434b8" stroke-width="1" stroke-dasharray="1.5,1.2" />
<line x1="483.30" y1="186.00" x2="483.30" y2="189.20" stroke="#3434b8" stroke-width="1" stroke-dasharray="1.5,1.2" />
<line x1="402.30" y1="252.50" x2="402.30" y2="278.30" stroke="#cc4640" stroke-width="0.9" stroke-dasharray="1.3,1.1" opacity="0.9"/>
<line x1="443.00" y1="223.10" x2="443.00" y2="240.00" stroke="#cc4640" stroke-width="0.9" stroke-dasharray="1.3,1.1" opacity="0.9"/>
<line x1="483.30" y1="245.50" x2="483.30" y2="261.40" stroke="#cc4640" stroke-width="0.9" stroke-dasharray="1.3,1.1" opacity="0.9"/>
<polyline points="402.30,265.40 443.00,232.50 483.30,247.00" fill="none" stroke="#cc4640" stroke-width="1.15" stroke-linejoin="round"/>
<path d="M400.50,252.50h3.6M402.30,250.70v3.6" stroke="#b03a3a" stroke-width="0.9" opacity="0.85"/>
<circle cx="402.30" cy="252.50" r="1.0" fill="#b03a3a"/>
<path d="M400.50,265.40h3.6M402.30,263.60v3.6" stroke="#b03a3a" stroke-width="0.9" opacity="0.85"/>
<circle cx="402.30" cy="265.40" r="1.0" fill="#b03a3a"/>
<path d="M400.50,278.30h3.6M402.30,276.50v3.6" stroke="#b03a3a" stroke-width="0.9" opacity="0.85"/>
<circle cx="402.30" cy="278.30" r="1.0" fill="#b03a3a"/>
<path d="M441.20,223.10h3.6M443.00,221.30v3.6" stroke="#b03a3a" stroke-width="0.9" opacity="0.85"/>
<circle cx="443.00" cy="223.10" r="1.0" fill="#b03a3a"/>
<path d="M441.20,232.50h3.6M443.00,230.70v3.6" stroke="#b03a3a" stroke-width="0.9" opacity="0.85"/>
<circle cx="443.00" cy="232.50" r="1.0" fill="#b03a3a"/>
<path d="M441.20,240.00h3.6M443.00,238.20v3.6" stroke="#b03a3a" stroke-width="0.9" opacity="0.85"/>
<circle cx="443.00" cy="240.00" r="1.0" fill="#b03a3a"/>
<path d="M481.50,245.50h3.6M483.30,243.70v3.6" stroke="#b03a3a" stroke-width="0.9" opacity="0.85"/>
<circle cx="483.30" cy="245.50" r="1.0" fill="#b03a3a"/>
<path d="M481.50,247.00h3.6M483.30,245.20v3.6" stroke="#b03a3a" stroke-width="0.9" opacity="0.85"/>
<circle cx="483.30" cy="247.00" r="1.0" fill="#b03a3a"/>
<path d="M481.50,261.40h3.6M483.30,259.60v3.6" stroke="#b03a3a" stroke-width="0.9" opacity="0.85"/>
<circle cx="483.30" cy="261.40" r="1.0" fill="#b03a3a"/>
<line x1="402.30" y1="193.10" x2="402.30" y2="213.00" stroke="#3c3cc4" stroke-width="0.9" stroke-dasharray="1.3,1.1" opacity="0.9"/>
<line x1="443.00" y1="232.50" x2="443.00" y2="247.80" stroke="#3c3cc4" stroke-width="0.9" stroke-dasharray="1.3,1.1" opacity="0.9"/>
<line x1="483.30" y1="234.40" x2="483.30" y2="256.00" stroke="#3c3cc4" stroke-width="0.9" stroke-dasharray="1.3,1.1" opacity="0.9"/>
<polyline points="402.30,203.20 443.00,241.00 483.30,245.50" fill="none" stroke="#3c3cc4" stroke-width="1.15" stroke-linejoin="round"/>
<path d="M400.50,193.10h3.6M402.30,191.30v3.6" stroke="#282890" stroke-width="0.9" opacity="0.85"/>
<circle cx="402.30" cy="193.10" r="1.0" fill="#282890"/>
<path d="M400.50,203.20h3.6M402.30,201.40v3.6" stroke="#282890" stroke-width="0.9" opacity="0.85"/>
<circle cx="402.30" cy="203.20" r="1.0" fill="#282890"/>
<path d="M400.50,213.00h3.6M402.30,211.20v3.6" stroke="#282890" stroke-width="0.9" opacity="0.85"/>
<circle cx="402.30" cy="213.00" r="1.0" fill="#282890"/>
<path d="M441.20,232.50h3.6M443.00,230.70v3.6" stroke="#282890" stroke-width="0.9" opacity="0.85"/>
<circle cx="443.00" cy="232.50" r="1.0" fill="#282890"/>
<path d="M441.20,241.00h3.6M443.00,239.20v3.6" stroke="#282890" stroke-width="0.9" opacity="0.85"/>
<circle cx="443.00" cy="241.00" r="1.0" fill="#282890"/>
<path d="M441.20,247.80h3.6M443.00,246.00v3.6" stroke="#282890" stroke-width="0.9" opacity="0.85"/>
<circle cx="443.00" cy="247.80" r="1.0" fill="#282890"/>
<path d="M481.50,234.40h3.6M483.30,232.60v3.6" stroke="#282890" stroke-width="0.9" opacity="0.85"/>
<circle cx="483.30" cy="234.40" r="1.0" fill="#282890"/>
<path d="M481.50,245.50h3.6M483.30,243.70v3.6" stroke="#282890" stroke-width="0.9" opacity="0.85"/>
<circle cx="483.30" cy="245.50" r="1.0" fill="#282890"/>
<path d="M481.50,256.00h3.6M483.30,254.20v3.6" stroke="#282890" stroke-width="0.9" opacity="0.85"/>
<circle cx="483.30" cy="256.00" r="1.0" fill="#282890"/>
<polygon points="442.70,188.60 443.44,190.38 445.36,190.53 443.90,191.79 444.35,193.67 442.70,192.66 441.05,193.67 441.50,191.79 440.04,190.53 441.96,190.38" fill="#3434a8"/>
<polygon points="427.00,216.40 427.74,218.18 429.66,218.33 428.20,219.59 428.65,221.47 427.00,220.46 425.35,221.47 425.80,219.59 424.34,218.33 426.26,218.18" fill="#3434a8"/>
<polygon points="421.80,242.20 422.54,243.98 424.46,244.13 423.00,245.39 423.45,247.27 421.80,246.26 420.15,247.27 420.60,245.39 419.14,244.13 421.06,243.98" fill="#b84440"/>
<rect x="388.40" y="181.30" width="108.40" height="101.30" fill="none" stroke="#303030" stroke-width="1.3"/>
<text x="402.90" y="289.60" font-size="7.5" font-weight="bold" font-style="normal" text-anchor="middle" fill="#111" stroke="#111" stroke-width="0.3" >MM</text>
<text x="445.00" y="289.60" font-size="7.5" font-weight="bold" font-style="normal" text-anchor="middle" fill="#111" stroke="#111" stroke-width="0.3" >MS</text>
<text x="484.80" y="289.60" font-size="7.5" font-weight="bold" font-style="normal" text-anchor="middle" fill="#111" stroke="#111" stroke-width="0.3" >SS</text>
<text x="448.50" y="296.30" font-size="7.75" font-weight="bold" font-style="italic" text-anchor="middle" fill="#111" stroke="#111" stroke-width="0.3" >Chcmq10</text>
<text x="449.60" y="305.30" font-size="8.1" font-weight="bold" font-style="normal" text-anchor="middle" fill="#1a1a1a" stroke="#1a1a1a" stroke-width="0.15" >Chr 8 @ 16.9</text>
<text transform="translate(4.40,71.80) rotate(-90)" font-size="8.3" font-weight="bold" text-anchor="middle" fill="#111" stroke="#111" stroke-width="0.3" y="2.99">CHCM</text>
<text transform="translate(24.30,229.20) rotate(-90)" font-size="8.5" font-weight="bold" text-anchor="middle" fill="#111" stroke="#111" stroke-width="0.3" y="3.06">CHCM</text>
<line x1="26.50" y1="370.50" x2="26.50" y2="468.70" stroke="#8a8a8a" stroke-width="0.9" />
<line x1="26.50" y1="468.70" x2="204.30" y2="468.70" stroke="#8a8a8a" stroke-width="0.9" />
<line x1="21.60" y1="464.90" x2="26.50" y2="464.90" stroke="#8a8a8a" stroke-width="0.8" />
<text x="20.70" y="467.50" font-size="7.3" font-weight="bold" font-style="normal" text-anchor="end" fill="#111" stroke="#111" stroke-width="0.3" >0</text>
<line x1="21.60" y1="450.45" x2="26.50" y2="450.45" stroke="#8a8a8a" stroke-width="0.8" />
<text x="20.70" y="453.05" font-size="7.3" font-weight="bold" font-style="normal" text-anchor="end" fill="#111" stroke="#111" stroke-width="0.3" >1</text>
<line x1="21.60" y1="436.00" x2="26.50" y2="436.00" stroke="#8a8a8a" stroke-width="0.8" />
<text x="20.70" y="438.60" font-size="7.3" font-weight="bold" font-style="normal" text-anchor="end" fill="#111" stroke="#111" stroke-width="0.3" >2</text>
<line x1="21.60" y1="421.55" x2="26.50" y2="421.55" stroke="#8a8a8a" stroke-width="0.8" />
<text x="20.70" y="424.15" font-size="7.3" font-weight="bold" font-style="normal" text-anchor="end" fill="#111" stroke="#111" stroke-width="0.3" >3</text>
<line x1="21.60" y1="407.10" x2="26.50" y2="407.10" stroke="#8a8a8a" stroke-width="0.8" />
<text x="20.70" y="409.70" font-size="7.3" font-weight="bold" font-style="normal" text-anchor="end" fill="#111" stroke="#111" stroke-width="0.3" >4</text>
<line x1="21.60" y1="392.65" x2="26.50" y2="392.65" stroke="#8a8a8a" stroke-width="0.8" />
<text x="20.70" y="395.25" font-size="7.3" font-weight="bold" font-style="normal" text-anchor="end" fill="#111" stroke="#111" stroke-width="0.3" >5</text>
<line x1="21.60" y1="378.20" x2="26.50" y2="378.20" stroke="#8a8a8a" stroke-width="0.8" />
<text x="20.70" y="380.80" font-size="7.3" font-weight="bold" font-style="normal" text-anchor="end" fill="#111" stroke="#111" stroke-width="0.3" >6</text>
<text x="33.90" y="480.60" font-size="7.4" font-weight="bold" font-style="normal" text-anchor="middle" fill="#111" stroke="#111" stroke-width="0.3" >0</text>
<line x1="33.60" y1="468.70" x2="33.60" y2="471.60" stroke="#8a8a8a" stroke-width="0.8" />
<text x="80.10" y="480.60" font-size="7.4" font-weight="bold" font-style="normal" text-anchor="middle" fill="#111" stroke="#111" stroke-width="0.3" >20</text>
<line x1="79.80" y1="468.70" x2="79.80" y2="471.60" stroke="#8a8a8a" stroke-width="0.8" />
<text x="126.30" y="480.60" font-size="7.4" font-weight="bold" font-style="normal" text-anchor="middle" fill="#111" stroke="#111" stroke-width="0.3" >40</text>
<line x1="126.00" y1="468.70" x2="126.00" y2="471.60" stroke="#8a8a8a" stroke-width="0.8" />
<text x="172.50" y="480.60" font-size="7.4" font-weight="bold" font-style="normal" text-anchor="middle" fill="#111" stroke="#111" stroke-width="0.3" >60</text>
<line x1="172.20" y1="468.70" x2="172.20" y2="471.60" stroke="#8a8a8a" stroke-width="0.8" />
<line x1="38.80" y1="467.00" x2="38.80" y2="468.70" stroke="#8a8a8a" stroke-width="0.7" />
<line x1="50.30" y1="467.00" x2="50.30" y2="468.70" stroke="#8a8a8a" stroke-width="0.7" />
<line x1="91.50" y1="467.00" x2="91.50" y2="468.70" stroke="#8a8a8a" stroke-width="0.7" />
<line x1="106.60" y1="467.00" x2="106.60" y2="468.70" stroke="#8a8a8a" stroke-width="0.7" />
<line x1="130.20" y1="467.00" x2="130.20" y2="468.70" stroke="#8a8a8a" stroke-width="0.7" />
<line x1="144.20" y1="467.00" x2="144.20" y2="468.70" stroke="#8a8a8a" stroke-width="0.7" />
<line x1="158.10" y1="467.00" x2="158.10" y2="468.70" stroke="#8a8a8a" stroke-width="0.7" />
<line x1="198.80" y1="467.00" x2="198.80" y2="468.70" stroke="#8a8a8a" stroke-width="0.7" />
<text x="128.00" y="492.40" font-size="7.8" font-weight="bold" font-style="normal" text-anchor="middle" fill="#111" stroke="#111" stroke-width="0.3" >Map Position (cM)</text>
<text transform="translate(5.20,416.20) rotate(-90)" font-size="8.5" font-weight="bold" text-anchor="middle" fill="#111" stroke="#111" stroke-width="0.3" y="3.06">LOD</text>
<text x="122.3" y="339.4" font-size="7.75" font-weight="bold" text-anchor="middle" fill="#111" stroke="#111" stroke-width="0.3">Identification <tspan font-style="italic">of Chcmq11</tspan></text>
<text x="118.60" y="348.60" font-size="7.7" font-weight="bold" font-style="normal" text-anchor="middle" fill="#111" stroke="#111" stroke-width="0.3" >Chr 9 ΔLOD &gt; 2.0</text>
<text x="105.00" y="396.40" font-size="7.0" font-weight="bold" font-style="italic" text-anchor="middle" fill="#111" stroke="#111" stroke-width="0.3" >Chcmq11</text>
<text x="159.60" y="369.20" font-size="7.2" font-weight="bold" font-style="italic" text-anchor="middle" fill="#111" stroke="#111" stroke-width="0.3" >Chcmq2</text>
<polyline points="62.30,459.80 70.00,460.80 80.00,461.80 91.60,462.80 95.00,452.00 99.40,437.50 103.00,425.00 106.90,414.50 110.00,421.00 113.50,428.10 117.00,435.00 120.50,442.20 125.00,451.00 130.00,460.50 137.00,459.10 145.00,460.00 160.50,461.70 180.00,462.30 199.20,462.90" fill="none" stroke="#9478dc" stroke-width="0.9" stroke-dasharray="3.4,2.2" stroke-linejoin="round"/>
<polyline points="38.80,464.50 46.00,465.00 55.20,465.00 60.00,463.80 64.60,462.10 71.00,458.50 78.70,453.90 86.00,448.50 90.00,444.50 93.20,442.60 95.00,443.80 98.20,449.20 100.50,451.00 102.90,451.60 106.00,449.50 108.50,446.50 111.10,442.20 114.50,435.50 118.20,428.10 121.50,422.00 125.20,417.50 128.50,414.50 131.10,412.80 132.80,408.00 134.60,402.30 137.00,397.50 139.30,394.00 141.00,392.60 142.80,391.70 145.20,389.40 147.50,385.50 149.90,382.30 152.50,379.60 155.80,377.60 159.50,376.60 164.00,376.40 167.50,377.20 171.00,379.30 175.00,382.50 179.20,386.50 184.00,392.80 188.60,400.00 194.00,409.00 199.20,418.70" fill="none" stroke="#1a1a1a" stroke-width="1.0" stroke-linejoin="round"/>
<polyline points="38.80,461.00 44.00,460.20 50.50,459.00 56.00,458.80 61.10,458.60 66.00,457.00 71.60,454.40 77.00,451.00 82.20,447.30 87.00,444.00 91.60,441.00 94.00,438.50 97.00,432.00 100.00,422.00 103.00,410.00 106.40,399.50 110.00,402.50 113.50,404.20 117.00,404.60 120.50,405.00 123.50,405.60 126.40,406.50 129.00,407.80 131.10,409.30 132.50,406.00 134.60,400.00 137.00,393.00 139.30,388.20 141.20,386.30 143.00,385.60 145.20,384.70 147.50,380.00 150.00,376.50 152.20,374.60 155.00,373.40 158.10,372.90 161.00,372.90 164.00,373.40 167.50,374.60 171.00,376.40 175.00,380.00 179.20,384.70 184.00,391.50 188.60,398.80 194.00,407.50 199.20,417.50" fill="none" stroke="#dc5050" stroke-width="1.0" stroke-linejoin="round"/>
<line x1="266.70" y1="475.80" x2="515.00" y2="475.80" stroke="#a8a8a8" stroke-width="0.9" />
<line x1="264.30" y1="475.80" x2="266.70" y2="475.80" stroke="#a8a8a8" stroke-width="0.8" />
<text x="259.30" y="478.30" font-size="7.1" font-weight="bold" font-style="normal" text-anchor="end" fill="#1a1a1a" stroke="#1a1a1a" stroke-width="0.3" >30</text>
<line x1="266.70" y1="456.42" x2="515.00" y2="456.42" stroke="#c4c4c4" stroke-width="0.9" />
<line x1="264.30" y1="456.42" x2="266.70" y2="456.42" stroke="#a8a8a8" stroke-width="0.8" />
<text x="259.30" y="458.92" font-size="7.1" font-weight="bold" font-style="normal" text-anchor="end" fill="#1a1a1a" stroke="#1a1a1a" stroke-width="0.3" >30.2</text>
<line x1="266.70" y1="437.04" x2="515.00" y2="437.04" stroke="#c4c4c4" stroke-width="0.9" />
<line x1="264.30" y1="437.04" x2="266.70" y2="437.04" stroke="#a8a8a8" stroke-width="0.8" />
<text x="259.30" y="439.54" font-size="7.1" font-weight="bold" font-style="normal" text-anchor="end" fill="#1a1a1a" stroke="#1a1a1a" stroke-width="0.3" >30.4</text>
<line x1="266.70" y1="417.66" x2="515.00" y2="417.66" stroke="#c4c4c4" stroke-width="0.9" />
<line x1="264.30" y1="417.66" x2="266.70" y2="417.66" stroke="#a8a8a8" stroke-width="0.8" />
<text x="259.30" y="420.16" font-size="7.1" font-weight="bold" font-style="normal" text-anchor="end" fill="#1a1a1a" stroke="#1a1a1a" stroke-width="0.3" >30.6</text>
<line x1="266.70" y1="398.28" x2="515.00" y2="398.28" stroke="#c4c4c4" stroke-width="0.9" />
<line x1="264.30" y1="398.28" x2="266.70" y2="398.28" stroke="#a8a8a8" stroke-width="0.8" />
<text x="259.30" y="400.78" font-size="7.1" font-weight="bold" font-style="normal" text-anchor="end" fill="#1a1a1a" stroke="#1a1a1a" stroke-width="0.3" >30.8</text>
<line x1="266.70" y1="378.90" x2="515.00" y2="378.90" stroke="#c4c4c4" stroke-width="0.9" />
<line x1="264.30" y1="378.90" x2="266.70" y2="378.90" stroke="#a8a8a8" stroke-width="0.8" />
<text x="259.30" y="381.40" font-size="7.1" font-weight="bold" font-style="normal" text-anchor="end" fill="#1a1a1a" stroke="#1a1a1a" stroke-width="0.3" >31</text>
<line x1="266.70" y1="359.52" x2="515.00" y2="359.52" stroke="#c4c4c4" stroke-width="0.9" />
<line x1="264.30" y1="359.52" x2="266.70" y2="359.52" stroke="#a8a8a8" stroke-width="0.8" />
<text x="259.30" y="362.02" font-size="7.1" font-weight="bold" font-style="normal" text-anchor="end" fill="#1a1a1a" stroke="#1a1a1a" stroke-width="0.3" >31.2</text>
<line x1="266.70" y1="340.14" x2="515.00" y2="340.14" stroke="#c4c4c4" stroke-width="0.9" />
<line x1="264.30" y1="340.14" x2="266.70" y2="340.14" stroke="#a8a8a8" stroke-width="0.8" />
<text x="259.30" y="342.64" font-size="7.1" font-weight="bold" font-style="normal" text-anchor="end" fill="#1a1a1a" stroke="#1a1a1a" stroke-width="0.3" >31.4</text>
<line x1="266.70" y1="320.76" x2="515.00" y2="320.76" stroke="#c4c4c4" stroke-width="0.9" />
<line x1="264.30" y1="320.76" x2="266.70" y2="320.76" stroke="#a8a8a8" stroke-width="0.8" />
<text x="259.30" y="323.26" font-size="7.1" font-weight="bold" font-style="normal" text-anchor="end" fill="#1a1a1a" stroke="#1a1a1a" stroke-width="0.3" >31.6</text>
<line x1="266.70" y1="320.80" x2="266.70" y2="475.80" stroke="#a8a8a8" stroke-width="0.9" />
<line x1="349.50" y1="320.80" x2="349.50" y2="498.00" stroke="#a8a8a8" stroke-width="0.8" />
<line x1="431.50" y1="320.80" x2="431.50" y2="498.00" stroke="#a8a8a8" stroke-width="0.8" />
<defs><linearGradient id="bg" x1="0" y1="0" x2="0" y2="1">
<stop offset="0" stop-color="#b9d0fa"/><stop offset="1" stop-color="#5f8ee0"/></linearGradient>
<linearGradient id="bh" x1="0" y1="0" x2="1" y2="0">
<stop offset="0" stop-color="#ffffff" stop-opacity="0.0"/><stop offset="0.45" stop-color="#ffffff" stop-opacity="0.18"/><stop offset="1" stop-color="#ffffff" stop-opacity="0.0"/></linearGradient></defs>
<rect x="274.60" y="379.40" width="11.2" height="96.40" fill="url(#bg)"/>
<line x1="280.20" y1="371.80" x2="280.20" y2="379.40" stroke="#333" stroke-width="0.9" />
<line x1="278.50" y1="371.80" x2="281.90" y2="371.80" stroke="#333" stroke-width="0.9" />
<rect x="302.25" y="371.20" width="11.2" height="104.60" fill="url(#bg)"/>
<line x1="307.85" y1="363.10" x2="307.85" y2="371.20" stroke="#333" stroke-width="0.9" />
<line x1="306.15" y1="363.10" x2="309.55" y2="363.10" stroke="#333" stroke-width="0.9" />
<rect x="329.90" y="372.00" width="11.2" height="103.80" fill="url(#bg)"/>
<line x1="335.50" y1="363.60" x2="335.50" y2="372.00" stroke="#333" stroke-width="0.9" />
<line x1="333.80" y1="363.60" x2="337.20" y2="363.60" stroke="#333" stroke-width="0.9" />
<rect x="357.55" y="422.10" width="11.2" height="53.70" fill="url(#bg)"/>
<line x1="363.15" y1="414.00" x2="363.15" y2="422.10" stroke="#333" stroke-width="0.9" />
<line x1="361.45" y1="414.00" x2="364.85" y2="414.00" stroke="#333" stroke-width="0.9" />
<rect x="385.20" y="378.90" width="11.2" height="96.90" fill="url(#bg)"/>
<line x1="390.80" y1="370.00" x2="390.80" y2="378.90" stroke="#333" stroke-width="0.9" />
<line x1="389.10" y1="370.00" x2="392.50" y2="370.00" stroke="#333" stroke-width="0.9" />
<rect x="412.85" y="375.80" width="11.2" height="100.00" fill="url(#bg)"/>
<line x1="418.45" y1="367.40" x2="418.45" y2="375.80" stroke="#333" stroke-width="0.9" />
<line x1="416.75" y1="367.40" x2="420.15" y2="367.40" stroke="#333" stroke-width="0.9" />
<rect x="440.50" y="364.60" width="11.2" height="111.20" fill="url(#bg)"/>
<line x1="446.10" y1="356.40" x2="446.10" y2="364.60" stroke="#333" stroke-width="0.9" />
<line x1="444.40" y1="356.40" x2="447.80" y2="356.40" stroke="#333" stroke-width="0.9" />
<rect x="468.15" y="399.70" width="11.2" height="76.10" fill="url(#bg)"/>
<line x1="473.75" y1="392.10" x2="473.75" y2="399.70" stroke="#333" stroke-width="0.9" />
<line x1="472.05" y1="392.10" x2="475.45" y2="392.10" stroke="#333" stroke-width="0.9" />
<rect x="495.80" y="336.20" width="11.2" height="139.60" fill="url(#bg)"/>
<line x1="501.40" y1="328.00" x2="501.40" y2="336.20" stroke="#333" stroke-width="0.9" />
<line x1="499.70" y1="328.00" x2="503.10" y2="328.00" stroke="#333" stroke-width="0.9" />
<circle cx="363.3" cy="409.3" r="1.25" fill="#111"/>
<circle cx="498.9" cy="323.7" r="1.25" fill="#111"/><circle cx="502.9" cy="323.7" r="1.25" fill="#111"/>
<text transform="translate(229.50,404.20) rotate(-90)" font-size="7.2" font-weight="bold" text-anchor="middle" fill="#111" stroke="#111" stroke-width="0.3" y="2.59" textLength="18.6" lengthAdjust="spacingAndGlyphs">CHCM</text>
<text x="218.9" y="489.6" font-size="5.9" font-weight="bold" text-anchor="start" fill="#1a1a1a" stroke="#1a1a1a" stroke-width="0.25">Chr 8 (<tspan font-style="italic">Chcmq13</tspan>)</text>
<text x="218.9" y="497.3" font-size="5.9" font-weight="bold" text-anchor="start" fill="#1a1a1a" stroke="#1a1a1a" stroke-width="0.25">Chr 14 (<tspan font-style="italic">Chcmq14</tspan>)</text>
<text x="280.20" y="489.60" font-size="6.0" font-weight="bold" font-style="normal" text-anchor="middle" fill="#1a1a1a" stroke="#1a1a1a" stroke-width="0.3" >AA</text>
<text x="280.20" y="497.30" font-size="6.0" font-weight="bold" font-style="normal" text-anchor="middle" fill="#1a1a1a" stroke="#1a1a1a" stroke-width="0.3" >AA</text>
<text x="307.85" y="489.60" font-size="6.0" font-weight="bold" font-style="normal" text-anchor="middle" fill="#1a1a1a" stroke="#1a1a1a" stroke-width="0.3" >AZ</text>
<text x="307.85" y="497.30" font-size="6.0" font-weight="bold" font-style="normal" text-anchor="middle" fill="#1a1a1a" stroke="#1a1a1a" stroke-width="0.3" >AA</text>
<text x="335.50" y="489.60" font-size="6.0" font-weight="bold" font-style="normal" text-anchor="middle" fill="#1a1a1a" stroke="#1a1a1a" stroke-width="0.3" >ZZ</text>
<text x="335.50" y="497.30" font-size="6.0" font-weight="bold" font-style="normal" text-anchor="middle" fill="#1a1a1a" stroke="#1a1a1a" stroke-width="0.3" >AA</text>
<text x="363.15" y="489.60" font-size="6.0" font-weight="bold" font-style="normal" text-anchor="middle" fill="#1a1a1a" stroke="#1a1a1a" stroke-width="0.3" >AA</text>
<text x="363.15" y="497.30" font-size="6.0" font-weight="bold" font-style="normal" text-anchor="middle" fill="#1a1a1a" stroke="#1a1a1a" stroke-width="0.3" >AZ</text>
<text x="390.80" y="489.60" font-size="6.0" font-weight="bold" font-style="normal" text-anchor="middle" fill="#1a1a1a" stroke="#1a1a1a" stroke-width="0.3" >AZ</text>
<text x="390.80" y="497.30" font-size="6.0" font-weight="bold" font-style="normal" text-anchor="middle" fill="#1a1a1a" stroke="#1a1a1a" stroke-width="0.3" >AZ</text>
<text x="418.45" y="489.60" font-size="6.0" font-weight="bold" font-style="normal" text-anchor="middle" fill="#1a1a1a" stroke="#1a1a1a" stroke-width="0.3" >ZZ</text>
<text x="418.45" y="497.30" font-size="6.0" font-weight="bold" font-style="normal" text-anchor="middle" fill="#1a1a1a" stroke="#1a1a1a" stroke-width="0.3" >AZ</text>
<text x="446.10" y="489.60" font-size="6.0" font-weight="bold" font-style="normal" text-anchor="middle" fill="#1a1a1a" stroke="#1a1a1a" stroke-width="0.3" >AA</text>
<text x="446.10" y="497.30" font-size="6.0" font-weight="bold" font-style="normal" text-anchor="middle" fill="#1a1a1a" stroke="#1a1a1a" stroke-width="0.3" >ZZ</text>
<text x="473.75" y="489.60" font-size="6.0" font-weight="bold" font-style="normal" text-anchor="middle" fill="#1a1a1a" stroke="#1a1a1a" stroke-width="0.3" >AZ</text>
<text x="473.75" y="497.30" font-size="6.0" font-weight="bold" font-style="normal" text-anchor="middle" fill="#1a1a1a" stroke="#1a1a1a" stroke-width="0.3" >ZZ</text>
<text x="501.40" y="489.60" font-size="6.0" font-weight="bold" font-style="normal" text-anchor="middle" fill="#1a1a1a" stroke="#1a1a1a" stroke-width="0.3" >ZZ</text>
<text x="501.40" y="497.30" font-size="6.0" font-weight="bold" font-style="normal" text-anchor="middle" fill="#1a1a1a" stroke="#1a1a1a" stroke-width="0.3" >ZZ</text>
<text x="383.00" y="507.60" font-size="6.6" font-weight="bold" font-style="normal" text-anchor="middle" fill="#1a1a1a" stroke="#1a1a1a" stroke-width="0.3" >Genotypes</text>
</svg>
</body></html>
